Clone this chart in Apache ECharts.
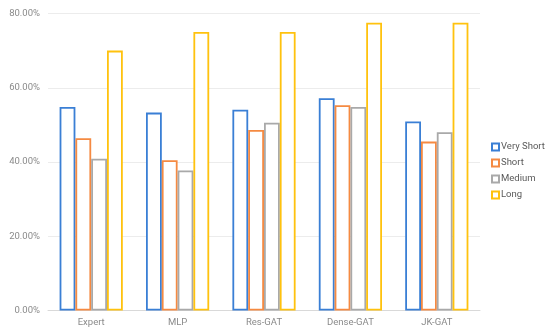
<!DOCTYPE html>
<html><head><meta charset="utf-8">
<script src="https://cdn.jsdelivr.net/npm/echarts@6/dist/echarts.min.js"></script>
<style>html,body{margin:0;padding:0;background:#fff}#c{width:550px;height:334px}</style>
</head><body><div id="c"></div>
<script>
const categories = ['Expert', 'MLP', 'Res-GAT', 'Dense-GAT', 'JK-GAT'];
const veryShort = [54.8, 53.3, 54.1, 57.2, 50.9];
const short = [46.4, 40.5, 48.6, 55.3, 45.5];
const medium = [40.9, 37.7, 50.6, 54.8, 48.0];
const long = [70.0, 75.0, 75.0, 77.5, 77.5];
const seriesNames = ['Very Short', 'Short', 'Medium', 'Long'];
const colors = ['#3a7fd5', '#f58a42', '#a9a9a9', '#ffc20e'];
const values = [veryShort, short, medium, long];

const chart = echarts.init(document.getElementById('c'));
const font = 'Roboto';
chart.setOption({
  animation: false,
  grid: { left: 48, right: 70, top: 13.5, bottom: 23.5 },
  legend: {
    orient: 'vertical', left: 486, top: 137, width: 64,
    icon: 'rect', itemWidth: 7, itemHeight: 7, itemGap: 6,
    textStyle: { fontFamily: font, fontSize: 9.5, color: '#595959', padding: [0, 0, 0, -3] },
    data: seriesNames
  },
  xAxis: {
    type: 'category', data: categories,
    axisLine: { lineStyle: { color: '#d9d9d9', width: 1 } },
    axisTick: { show: false },
    axisLabel: { fontFamily: font, fontSize: 9.5, color: '#8a8a8a', margin: 7 }
  },
  yAxis: {
    type: 'value', min: 0, max: 80, interval: 20,
    axisLine: { show: false }, axisTick: { show: false },
    splitLine: { lineStyle: { color: '#ececec', width: 1 } },
    axisLabel: { fontFamily: font, fontSize: 9.5, color: '#8a8a8a', margin: 8,
      formatter: v => v.toFixed(2) + '%' }
  },
  series: seriesNames.map((n, i) => ({
    name: n, type: 'bar', data: values[i],
    barWidth: 15.8, barGap: '0%',
    itemStyle: { color: '#ffffff', borderColor: colors[i], borderWidth: 1.8 }
  }))
});
</script></body></html>
